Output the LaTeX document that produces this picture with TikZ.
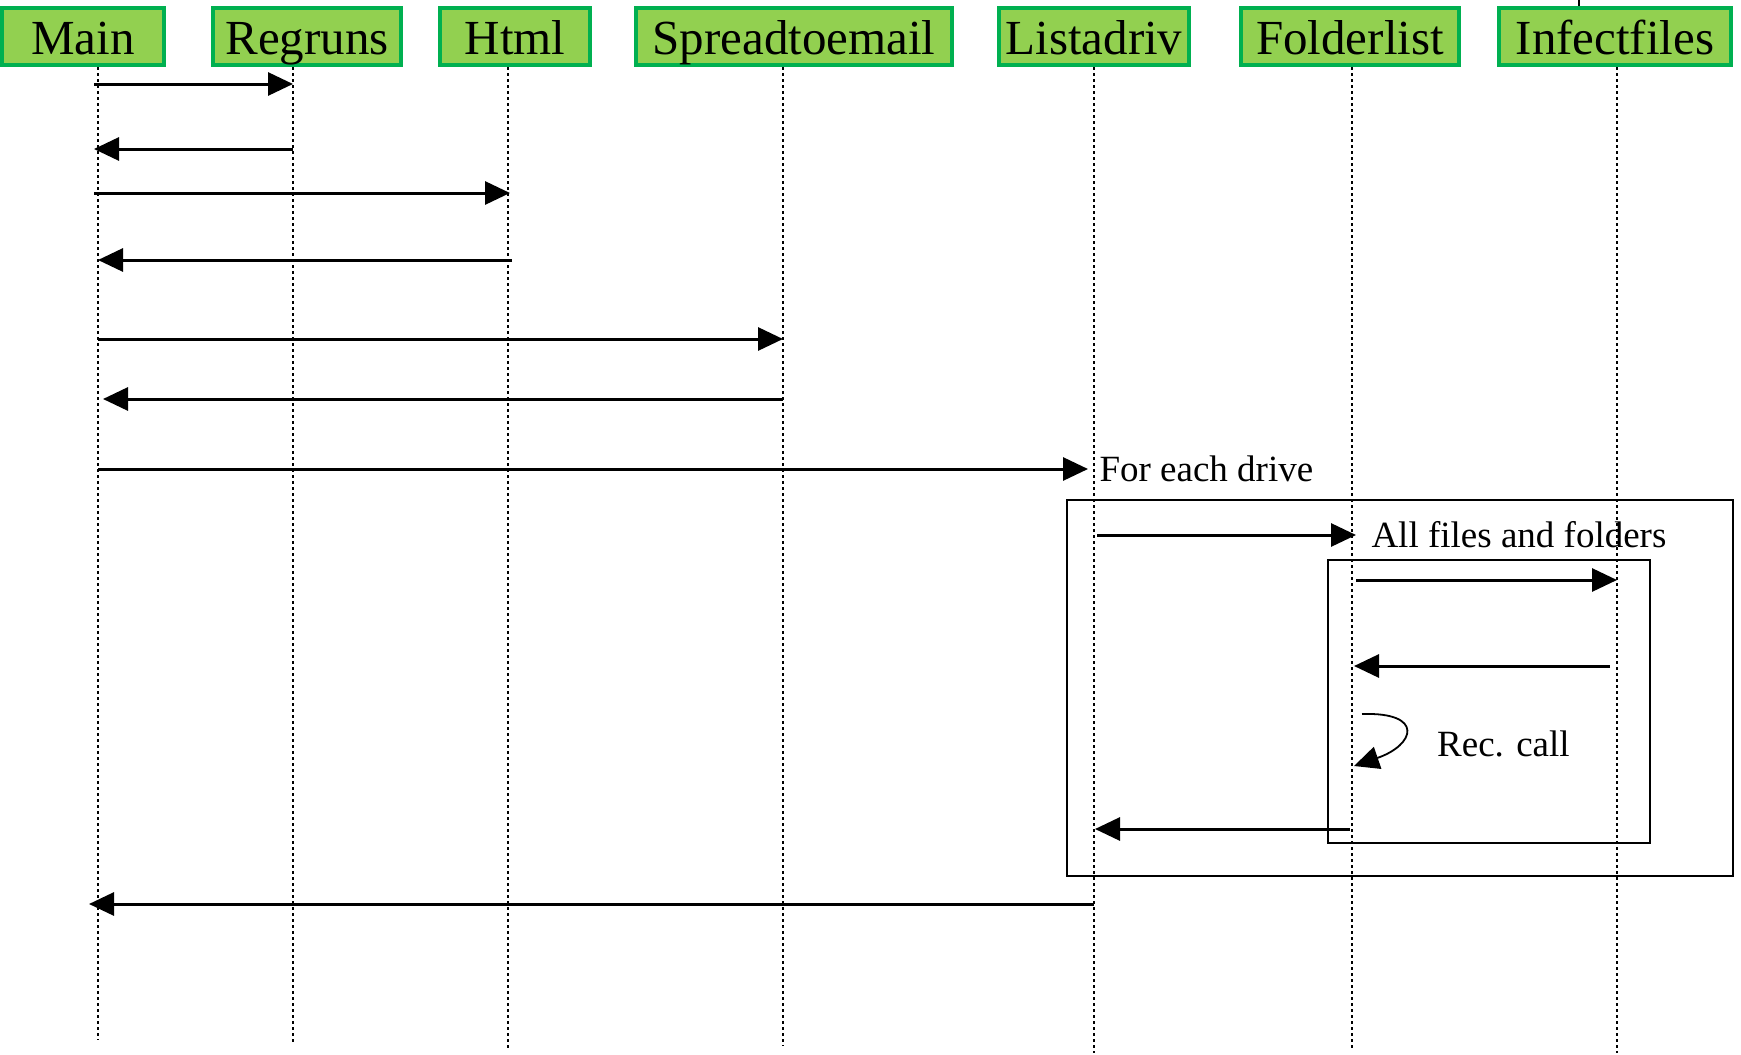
\documentclass[tikz,border=0pt]{standalone}
\usepackage{fontspec}
\setmainfont{Liberation Serif}
\usetikzlibrary{arrows.meta,positioning}
\definecolor{boxfill}{HTML}{92D050}
\definecolor{boxline}{HTML}{00B050}

\begin{document}
\begin{tikzpicture}[x=1pt,y=-1pt,
  head/.style={draw=boxline, fill=boxfill, line width=4pt, minimum height=57pt,
               inner sep=0pt, text height=42pt, text depth=6pt,
               font=\fontsize{49}{56}\selectfont},
  life/.style={line width=1.3pt, dash pattern=on 3pt off 3pt},
  msg/.style={line width=3pt, -{Triangle[length=25pt,width=23pt]}},
  lbl/.style={font=\fontsize{37}{44}\selectfont, inner sep=0pt},
  frame/.style={line width=2.5pt}]
\useasboundingbox (0,0) rectangle (1741,1055);

% --- Object boxes ---
\node[head, minimum width=162pt] (main)       at (83,36)   {Main};
\node[head, minimum width=188pt] (regruns)    at (307,36)  {Regruns};
\node[head, minimum width=150pt] (html)       at (515,36)  {Html};
\node[head, minimum width=316pt] (spread)     at (794,36)  {Spreadtoemail};
\node[head, minimum width=190pt] (listadriv)  at (1094,36) {Listadriv};
\node[head, minimum width=218pt] (folderlist) at (1350,36) {Folderlist};
\node[head, minimum width=232pt] (infect)     at (1615,36) {Infectfiles};
\draw[line width=1.3pt] (1579,0) -- (1579,6);

% --- Lifelines ---
\foreach \n/\x/\b in {main/98/1040, regruns/293/1044, html/508/1049, spread/783/1046,
                      listadriv/1094/1053, folderlist/1352/1049, infect/1617/1053} {
  \draw[life] (\x,67) coordinate (l\n) -- (\x,\b);
}

% --- Frames ---
\draw[frame] (1067,500) rectangle (1733,876);
\draw[line width=1.8pt] (1328,560) rectangle (1650,843);

% --- Messages ---
\draw[msg] ([xshift=-4pt]lmain |- 0,84) -- (lregruns |- 0,84);
\draw[msg] (lregruns |- 0,149) -- ([xshift=-4pt]lmain |- 0,149);
\draw[msg] ([xshift=-4pt]lmain |- 0,193) -- ([xshift=2pt]lhtml |- 0,193);
\draw[msg] ([xshift=4pt]lhtml |- 0,260) -- (lmain |- 0,260);
\draw[msg] (lmain |- 0,339) -- (lspread |- 0,339);
\draw[msg] (lspread |- 0,399) -- ([xshift=5pt]lmain |- 0,399);
\draw[msg] (lmain |- 0,469) -- ([xshift=-6pt]llistadriv |- 0,469)
  node[lbl, right=10pt] (drive) {For each drive};

\draw[msg] ([xshift=3pt]llistadriv |- 0,535) -- ([xshift=4pt]lfolderlist |- 0,535)
  node[lbl, right=14pt] (files) {All files and folders};
\draw[msg] ([xshift=4pt]lfolderlist |- 0,580) -- (linfect |- 0,580);
\draw[msg] ([xshift=-7pt]linfect |- 0,666) -- ([xshift=2pt]lfolderlist |- 0,666);

% recursive call
\draw[msg, line width=1.8pt] ([xshift=10pt]lfolderlist |- 0,714)
  .. controls (1425,712) and (1415,745) .. ([xshift=2pt]lfolderlist |- 0,766);
\node[lbl, anchor=west] (rec) at (1437,744) {Rec. call};

\draw[msg] ([xshift=-2pt]lfolderlist |- 0,829) -- ([xshift=1pt]llistadriv |- 0,829);
\draw[msg] (llistadriv |- 0,904) -- ([xshift=-9pt]lmain |- 0,904);
\end{tikzpicture}
\end{document}
